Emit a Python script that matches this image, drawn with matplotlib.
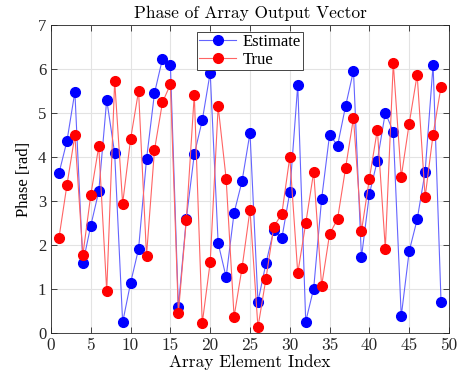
import matplotlib
matplotlib.use("Agg")
import matplotlib.pyplot as plt
import numpy as np

index = list(range(1, 50))
estimate = [3.63, 4.36, 5.48, 1.58, 2.44, 3.22, 5.30, 4.08, 0.24, 1.14,
            1.91, 3.95, 5.45, 6.23, 6.09, 0.59, 2.60, 4.06, 4.83, 5.92,
            2.04, 1.27, 2.73, 3.45, 4.55, 0.71, 1.58, 2.35, 2.15, 3.20,
            5.64, 0.26, 1.01, 3.05, 4.51, 4.26, 5.15, 5.96, 1.72, 3.16,
            3.92, 5.01, 4.57, 0.38, 1.86, 2.58, 3.66, 6.10, 0.70]
true_vals = [2.16, 3.36, 4.49, 1.77, 3.14, 4.24, 0.95, 5.73, 2.94, 4.41,
             5.50, 1.76, 4.16, 5.24, 5.65, 0.45, 2.57, 5.42, 0.22, 1.61,
             5.15, 3.51, 0.37, 1.48, 2.80, 0.13, 1.23, 2.42, 2.71, 4.00,
             1.36, 2.49, 3.66, 1.07, 2.25, 2.59, 3.74, 4.89, 2.31, 3.51,
             4.62, 1.92, 6.13, 3.55, 4.76, 5.87, 3.09, 4.51, 5.60]
xticks = list(range(0, 51, 5))
yticks = list(range(0, 8))

plt.rcParams['font.family'] = ['Liberation Serif', 'DejaVu Serif']
plt.rcParams['axes.formatter.use_mathtext'] = True
CM = 'cmr10'

fig = plt.figure(figsize=(4.61, 3.81), dpi=100)
ax = fig.add_axes([51/461, 1-333/381, 398/461, 308/381])

ax.plot(index, estimate, '-o', color='#6464ff', lw=0.8, markersize=7,
        markerfacecolor='blue', markeredgecolor='blue', label='Estimate')
ax.plot(index, true_vals, '-o', color='#ff6464', lw=0.8, markersize=7,
        markerfacecolor='red', markeredgecolor='red', label='True')

ax.set_xlim(0, 50)
ax.set_ylim(0, 7)
ax.set_xticks(xticks)
ax.set_xticklabels([str(v) for v in xticks], fontfamily=CM, fontsize=12.5)
ax.set_yticks(yticks)
ax.set_yticklabels([str(v) for v in yticks], fontsize=12)
ax.grid(True, color='#e3e3e3', lw=0.8)
ax.set_axisbelow(True)
ax.tick_params(direction='in', top=True, right=True,
               colors='#262626', length=4, width=0.6)
for s in ax.spines.values():
    s.set_color('#262626')
    s.set_linewidth(0.6)

ax.set_title('Phase of Array Output Vector', fontfamily=CM, fontsize=12.5, pad=5)
ax.set_xlabel('Array Element Index', fontfamily=CM, fontsize=12.5, labelpad=1)
ax.set_ylabel('Phase [rad]', fontsize=12, labelpad=4)

leg = ax.legend(loc='upper center', fontsize=12, fancybox=False,
                edgecolor='#262626', framealpha=1, borderpad=0.15,
                handlelength=2.2, handletextpad=0.4, labelspacing=0.1,
                borderaxespad=0.4)
leg.get_frame().set_linewidth(0.6)

fig.savefig('out.png', dpi=100)
